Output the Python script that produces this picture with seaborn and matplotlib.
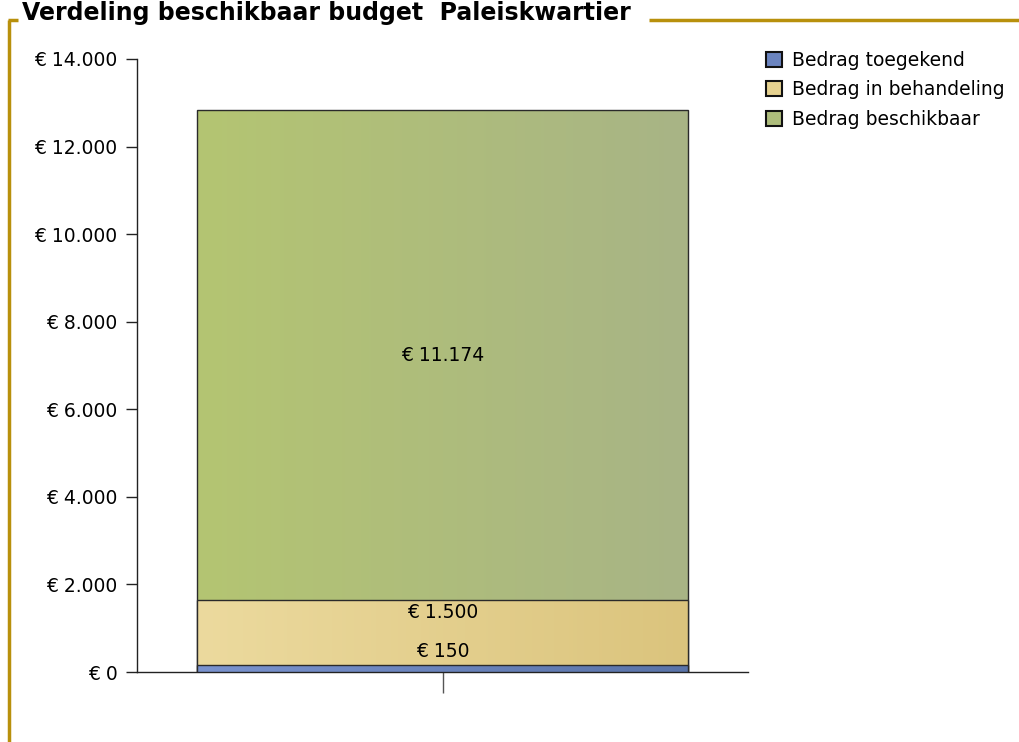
import numpy as np
import pandas as pd
import matplotlib
matplotlib.use("Agg")
import matplotlib.pyplot as plt
from matplotlib.colors import LinearSegmentedColormap
from matplotlib.patches import Patch
from matplotlib.lines import Line2D
import seaborn as sns

# Budget split for the Paleiskwartier project
series = ["Bedrag toegekend", "Bedrag in behandeling", "Bedrag beschikbaar"]
amounts = [150, 1500, 11174]
title = "Verdeling beschikbaar budget  Paleiskwartier"
yticks = [0, 2000, 4000, 6000, 8000, 10000, 12000, 14000]

# left -> right gradient colours for each segment
grad_left = ["#7a93cf", "#ecda9e", "#b4c572"]
grad_right = ["#5a74a9", "#dbc47d", "#a8b486"]
legend_cols = ["#6b84bf", "#e6d290", "#aebd7c"]

sns.set_theme(style="white")
plt.rcParams["font.family"] = ["DejaVu Sans"]

fig = plt.figure(figsize=(10.19, 7.42), dpi=100)
ax = fig.add_axes([137 / 1019, 1 - 672 / 742, (748 - 137) / 1019, (672 - 59) / 742])

cum = np.cumsum(amounts)
df = pd.DataFrame({"groep": [""] * 3, "totaal": cum, "reeks": series})

# stacked bar: draw cumulative totals largest first so smaller ones sit on top
for i in reversed(range(len(series))):
    sns.barplot(data=df.iloc[[i]], x="groep", y="totaal", ax=ax, width=0.804,
                color=legend_cols[i], edgecolor="#2a2a2a", linewidth=1.0,
                errorbar=None, zorder=2 + (len(series) - i))

ax.set_xlim(-0.5, 0.5)
ax.set_ylim(0, 14000)

# replace flat fills with horizontal gradients clipped to each segment
patches = list(ax.patches)
order = list(reversed(range(len(series))))
for p, i in zip(patches, order):
    x0 = p.get_x()
    w = p.get_width()
    bottom = cum[i - 1] if i > 0 else 0
    cmap = LinearSegmentedColormap.from_list(f"g{i}", [grad_left[i], grad_right[i]])
    grad = np.linspace(0, 1, 256).reshape(1, -1)
    im = ax.imshow(grad, cmap=cmap, aspect="auto", extent=[x0, x0 + w, bottom, cum[i]],
                   zorder=p.get_zorder() + 0.1, interpolation="bicubic")
    im.set_clip_path(p)
    p.set_facecolor("none")
    p.set_zorder(p.get_zorder() + 0.2)

ax.set_xlim(-0.5, 0.5)
ax.set_ylim(0, 14000)

def euro(v):
    return "€ " + f"{int(v):,}".replace(",", ".")

# value labels
lab_kw = dict(ha="center", va="center", fontsize=13.5, color="#000000", zorder=10)
ax.annotate(euro(amounts[2]), (0, cum[1] + amounts[2] / 2), **lab_kw)
ax.annotate(euro(amounts[0]), (0, cum[0]), xytext=(0, 14), textcoords="offset pixels", **lab_kw)
ax.annotate(euro(amounts[1]), (0, cum[0]), xytext=(0, 53), textcoords="offset pixels", **lab_kw)

ax.set_yticks(yticks)
ax.set_yticklabels([euro(v) for v in yticks], fontsize=13.5, color="#000000")
ax.set_xticks([0])
ax.set_xticklabels([""])
ax.set_xlabel("")
ax.set_ylabel("")
ax.tick_params(axis="y", direction="out", length=8, width=1, color="#222222", left=True, pad=6)
ax.tick_params(axis="x", direction="out", length=15, width=1, color="#555555", bottom=True)
for s in ["top", "right"]:
    ax.spines[s].set_visible(False)
for s in ["left", "bottom"]:
    ax.spines[s].set_color("#222222")
    ax.spines[s].set_linewidth(1.0)

handles = [Patch(facecolor=c, edgecolor="#111111", linewidth=1.5) for c in legend_cols]
fig.legend(handles, series, loc="upper left", bbox_to_anchor=(766 / 1019, 1 - 51 / 742),
           frameon=False, fontsize=13.5, handlelength=0.85, handleheight=0.85,
           handletextpad=0.55, labelspacing=0.55, borderaxespad=0, borderpad=0,
           labelcolor="#000000")

# title with the gold frame around the chart
gold = "#b8900c"
t = fig.text(22 / 1019, 1 - 13 / 742, title, fontsize=17, fontweight="bold",
             ha="left", va="center", color="#000000")
fig.canvas.draw()
bb = t.get_window_extent()
ty = 1 - 20 / 742
fig.add_artist(Line2D([9 / 1019, 9 / 1019], [0, ty], color=gold, lw=2.5,
                      transform=fig.transFigure, solid_capstyle="butt"))
fig.add_artist(Line2D([8 / 1019, 18 / 1019], [ty, ty], color=gold, lw=2.5,
                      transform=fig.transFigure, solid_capstyle="butt"))
fig.add_artist(Line2D([(bb.x1 + 18) / 1019, 1.0], [ty, ty], color=gold, lw=2.5,
                      transform=fig.transFigure, solid_capstyle="butt"))

fig.savefig("out.png", dpi=100)
